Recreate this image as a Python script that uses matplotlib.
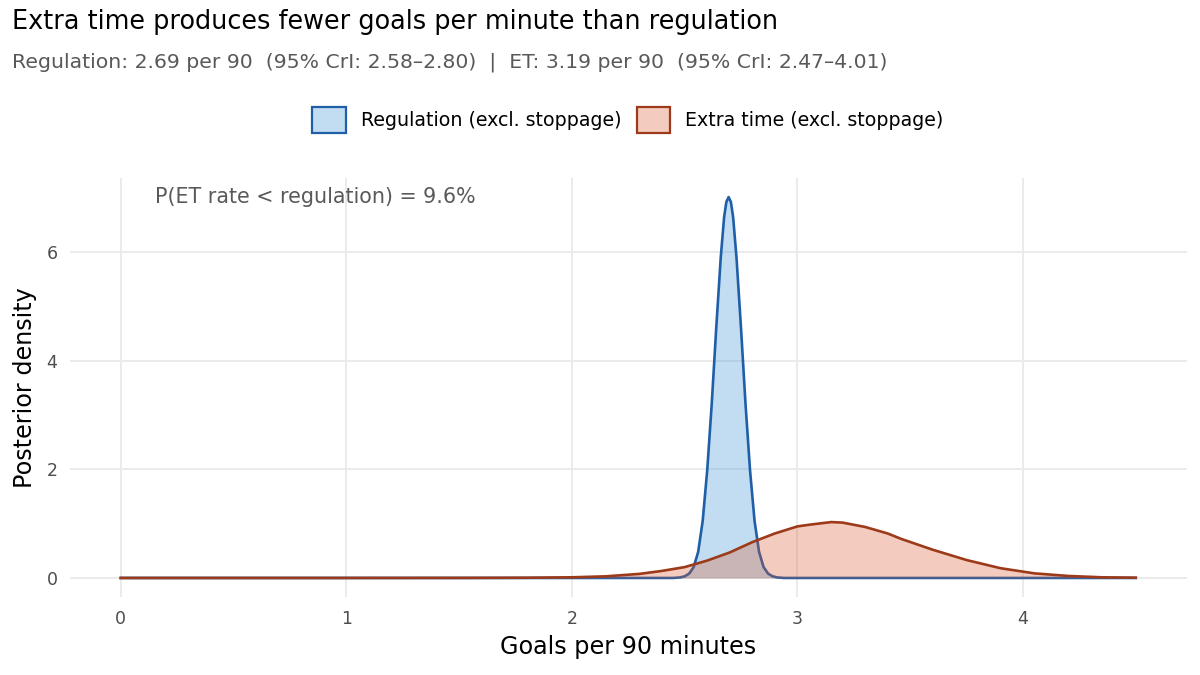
import matplotlib
matplotlib.use("Agg")
import matplotlib.pyplot as plt
from matplotlib.patches import Patch
from matplotlib.colors import to_rgba

plt.rcParams['font.family'] = ['DejaVu Sans']

# ---- data ----
reg_x = [0.0, 2.45, 2.48, 2.50, 2.52, 2.54, 2.56, 2.58, 2.60, 2.62, 2.64, 2.66, 2.675,
         2.685, 2.695, 2.705, 2.715, 2.73, 2.75, 2.77, 2.79, 2.81, 2.83, 2.85, 2.87,
         2.89, 2.91, 2.94, 4.5]
reg_y = [0.0, 0.0, 0.01, 0.03, 0.08, 0.20, 0.48, 1.05, 1.98, 3.20, 4.60, 5.90, 6.65,
         6.93, 7.02, 6.93, 6.65, 5.90, 4.60, 3.20, 1.98, 1.05, 0.48, 0.20, 0.08,
         0.03, 0.01, 0.0, 0.0]

et_x = [0.0, 1.0, 1.5, 1.8, 2.0, 2.15, 2.3, 2.4, 2.5, 2.6, 2.7, 2.8, 2.9, 3.0, 3.06,
        3.15, 3.2, 3.3, 3.4, 3.46, 3.6, 3.75, 3.9, 4.05, 4.2, 4.35, 4.5]
et_y = [0.0, 0.0, 0.001, 0.004, 0.012, 0.03, 0.075, 0.13, 0.20, 0.32, 0.47, 0.66, 0.82,
        0.95, 0.985, 1.03, 1.02, 0.94, 0.82, 0.72, 0.52, 0.33, 0.18, 0.085, 0.037, 0.012, 0.005]

series_labels = ["Regulation (excl. stoppage)", "Extra time (excl. stoppage)"]
x_ticks = [0, 1, 2, 3, 4]
y_ticks = [0, 2, 4, 6]
p_text = "P(ET rate < regulation) = 9.6%"
p_pos = (0.15, 7.02)

title = "Extra time produces fewer goals per minute than regulation"
subtitle = ("Regulation: 2.69 per 90  (95% CrI: 2.58\u20132.80)  |  "
            "ET: 3.19 per 90  (95% CrI: 2.47\u20134.01)")

# ---- style ----
BLUE_LINE = "#1f5fa8"
RED_LINE = "#9c3a1a"
BLUE_FILL = to_rgba("#378ed7", 0.30)
RED_FILL = to_rgba("#da582d", 0.30)
GRID = "#ebebeb"

W, H = 1200, 675
fig = plt.figure(figsize=(W / 100, H / 100), dpi=100)
ax = fig.add_axes([70 / W, 1 - 597 / H, (1186.5 - 70) / W, (597 - 178) / H])

ax.fill_between(reg_x, reg_y, 0, color=BLUE_FILL, lw=0, zorder=2)
ax.plot(reg_x, reg_y, color=BLUE_LINE, lw=1.9, zorder=3, solid_joinstyle="round")
ax.fill_between(et_x, et_y, 0, color=RED_FILL, lw=0, zorder=4)
ax.plot(et_x, et_y, color=RED_LINE, lw=1.9, zorder=5, solid_joinstyle="round")

ax.set_xlim(-0.225, 4.725)
ax.set_ylim(-0.351, 7.371)
ax.set_xticks(x_ticks)
ax.set_yticks(y_ticks)
ax.grid(True, color=GRID, lw=1.4, zorder=0)
ax.set_axisbelow(True)
for s in ax.spines.values():
    s.set_visible(False)
ax.tick_params(length=0, labelsize=12.5, labelcolor="#4d4d4d", pad=9)

ax.text(p_pos[0], p_pos[1], p_text, ha="left", va="center", fontsize=14.9,
        color="#595959", zorder=6)

fig.text(12 / W, 1 - 22 / H, title, ha="left", va="center", fontsize=18.4, color="black")
fig.text(12 / W, 1 - 62 / H, subtitle, ha="left", va="center", fontsize=14.7,
         color="#595959")

fig.text(628 / W, 1 - 647 / H, "Goals per 90 minutes", ha="center", va="center",
         fontsize=17.2, color="black")
fig.text(25 / W, 1 - 387.5 / H, "Posterior density", ha="center", va="center",
         rotation=90, fontsize=17.2, color="black")

handles = [Patch(facecolor=BLUE_FILL, edgecolor=BLUE_LINE, lw=1.6),
           Patch(facecolor=RED_FILL, edgecolor=RED_LINE, lw=1.6)]
fig.legend(handles, series_labels, loc="center", bbox_to_anchor=(628 / W, 1 - 120 / H),
           ncol=2, frameon=False, fontsize=13.7, handlelength=1.75, handleheight=1.75,
           handletextpad=0.8, columnspacing=0.8)

fig.savefig("out.png", dpi=100)
